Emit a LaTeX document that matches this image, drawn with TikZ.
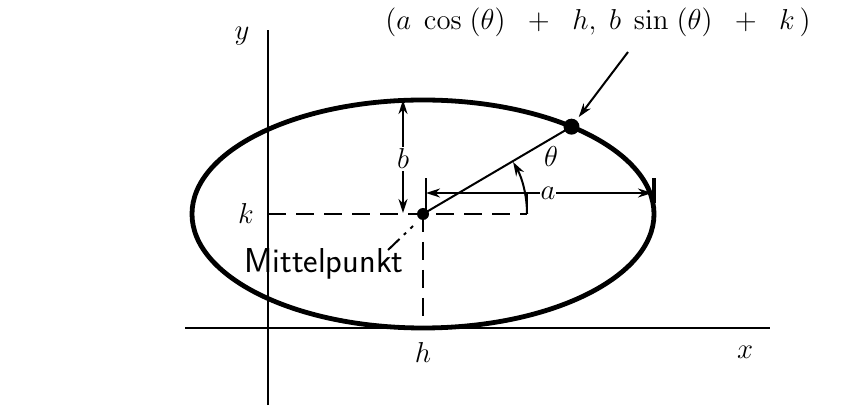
\documentclass[tikz,border=0pt]{standalone}
\usepackage{amsmath}
\usepackage{tikz}
\usetikzlibrary{arrows.meta, positioning}

\begin{document}
\begin{tikzpicture}[x=0.5pt, y=0.5pt, >={Stealth[length=7pt, width=4.5pt]},
    axisline/.style={line width=1.2pt},
    dimline/.style={line width=1pt, <->},
    guide/.style={line width=1.1pt, dash pattern=on 9pt off 5pt},
    lbl/.style={font=\Large, inner sep=1pt}]
    \useasboundingbox (0,0) rectangle (854,406);

    % Axes
    \coordinate (xl) at (185,78);
    \coordinate (xr) at (770,78);
    \coordinate (yb) at (268,1);
    \coordinate (yt) at (268,376);
    \draw[axisline] (xl) -- (xr);
    \draw[axisline] (yb) -- (yt);
    \node[lbl] (ylabel) at (242,370) {$y$};
    \node[lbl] (xlabel) at (745,54) {$x$};

    % Ellipse
    \coordinate (ctr) at (423,192);
    \draw[line width=2.4pt] (ctr) ellipse [x radius=231, y radius=114];
    \coordinate (pt) at ({423+231*cos(50)},{192+114*sin(50)});
    \fill (ctr) circle (6);
    \fill (pt) circle (8);

    % Center guides
    \coordinate (kend) at (527,192);
    \coordinate (hfoot) at (423,78);
    \coordinate (kfoot) at (268,192);
    \draw[guide] (kfoot) -- (kend);
    \draw[guide] (ctr) -- (hfoot);
    \node[lbl] (klabel) at (246,192) {$k$};
    \node[lbl] (hlabel) at (423,54) {$h$};

    % Radius and angle
    \draw[line width=1pt] (ctr) -- (pt);
    \draw[line width=1pt, ->] (ctr) ++(104,0) arc[start angle=0, end angle=30, radius=104];
    \draw[line width=1pt] (kend) -- ++(0,21);
    \node[lbl] (thlabel) at (551,249) {$\theta$};

    % Semi-axis a
    \coordinate (aleft) at (426,213);
    \coordinate (aright) at (652,213);
    \draw[line width=1pt] (426,194) -- (426,228);
    \draw[line width=2.4pt] (654,203) -- (654,228);
    \draw[dimline] (aleft) -- node[lbl, fill=white, inner sep=0.5pt, pos=0.54] (alabel) {$a$} (aright);

    % Semi-axis b
    \coordinate (btop) at (403,306);
    \coordinate (bbot) at (403,193);
    \draw[dimline] (btop) -- node[lbl, fill=white, pos=0.52] (blabel) {$b$} (bbot);

    % Point label
    \node[lbl] (ptlabel) at (598,384) {$(a\;\cos\;(\theta)\;\;+\;\;h,\;b\;\sin\;(\theta)\;\;+\;\;k\,)$};
    \coordinate (ptlead) at (628,354);
    \draw[line width=1pt, ->, shorten >=6pt] (ptlead) -- (pt);

    % Center label
    \node[lbl, font=\LARGE\sffamily] (mlabel) at (324,142) {Mittelpunkt};
    \coordinate (mlead) at (388,156);
    \coordinate (mtip) at (413,180);
    \draw[line width=1pt, dash pattern=on 8pt off 3pt on 1.5pt off 3pt] (mlead) -- (mtip);
\end{tikzpicture}
\end{document}
